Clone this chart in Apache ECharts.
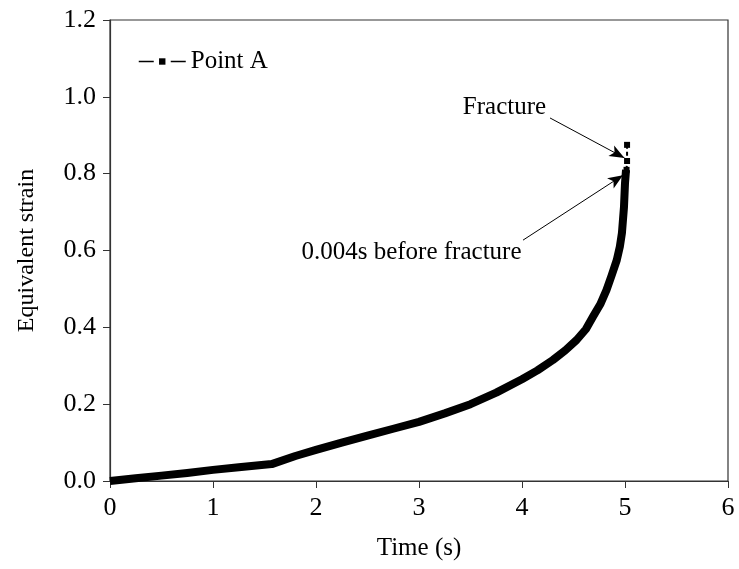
<!DOCTYPE html>
<html>
<head>
<meta charset="utf-8">
<script src="https://cdn.jsdelivr.net/npm/echarts@6/dist/echarts.min.js"></script>
<style>
html,body{margin:0;padding:0;background:#fff;}
#chart{width:739px;height:569px;}
</style>
</head>
<body>
<div id="chart"></div>
<script>
var timeValues   = [0, 0.25, 0.5, 0.75, 1.0, 1.25, 1.57, 1.8, 2.0, 2.25, 2.5, 2.75, 3.0, 3.25, 3.5, 3.75, 4.0, 4.15, 4.3, 4.42, 4.53, 4.62, 4.69, 4.76, 4.82, 4.87, 4.92, 4.95, 4.97, 4.99, 5.0, 5.01];
var strainValues = [0, 0.007, 0.014, 0.021, 0.029, 0.036, 0.044, 0.065, 0.081, 0.100, 0.118, 0.136, 0.154, 0.176, 0.200, 0.230, 0.265, 0.288, 0.315, 0.340, 0.367, 0.395, 0.428, 0.46, 0.497, 0.535, 0.575, 0.61, 0.645, 0.713, 0.775, 0.81];
var tipTime   = [5.015, 5.02, 5.02];
var tipStrain = [0.81, 0.833, 0.875];
var xTicks = [0, 1, 2, 3, 4, 5, 6];
var yTicks = [0.0, 0.2, 0.4, 0.6, 0.8, 1.0, 1.2];
var seriesName = 'Point A';
var annotFracture = {text: 'Fracture', at: [3.83, 0.973], from: [4.272, 0.945], to: [4.995, 0.841]};
var annotBefore = {text: '0.004s before fracture', at: [2.927, 0.596], from: [4.01, 0.627], to: [4.98, 0.796]};

var font = 'Liberation Serif, Times New Roman, serif';
var mainData = timeValues.map(function (t, i) { return [t, strainValues[i]]; });
var tipData = tipTime.map(function (t, i) { return [t, tipStrain[i]]; });

var chart = echarts.init(document.getElementById('chart'));
function arrowLine(a) {
  return [{coord: a.from, symbol: 'none'}, {coord: a.to, symbol: 'arrow', symbolSize: [9, 15]}];
}
chart.setOption({
  backgroundColor: '#fff',
  animation: false,
  grid: {left: 110, right: 11, top: 20, bottom: 88, show: true, borderColor: '#333', borderWidth: 1.2, backgroundColor: 'transparent'},
  legend: {
    show: true, left: 138, top: 49, padding: 0, itemWidth: 47, itemHeight: 8, itemGap: 4,
    data: [seriesName],
    textStyle: {fontFamily: font, fontSize: 25, color: '#000'},
    lineStyle: {type: [15, 17], width: 1.5, color: '#000'},
    itemStyle: {color: '#000'}
  },
  xAxis: {
    type: 'value', min: 0, max: 6, interval: 1,
    name: 'Time (s)', nameLocation: 'middle', nameGap: 55,
    nameTextStyle: {fontFamily: font, fontSize: 25, color: '#000'},
    axisLine: {show: true, lineStyle: {color: '#333', width: 1.2}},
    axisTick: {show: true, length: 7, lineStyle: {color: '#333'}},
    axisLabel: {fontFamily: font, fontSize: 26, color: '#000', margin: 14, formatter: function (v) { return xTicks.indexOf(v) >= 0 ? String(v) : ''; }},
    splitLine: {show: false}
  },
  yAxis: {
    type: 'value', min: 0, max: 1.2, interval: 0.2,
    name: 'Equivalent strain', nameLocation: 'middle', nameGap: 71,
    nameTextStyle: {fontFamily: font, fontSize: 24, color: '#000'},
    axisLine: {show: true, lineStyle: {color: '#333', width: 1.2}},
    axisTick: {show: true, length: 7, lineStyle: {color: '#333'}},
    axisLabel: {fontFamily: font, fontSize: 26, color: '#000', margin: 14, formatter: function (v) { return v.toFixed(1); }},
    splitLine: {show: false}
  },
  series: [
    {
      name: seriesName, type: 'line', data: mainData, symbol: 'rect', symbolSize: 6, showSymbol: false,
      lineStyle: {color: '#000', width: 8, join: 'round'}, itemStyle: {color: '#000'}, smooth: false,
      markLine: {silent: true, lineStyle: {color: '#000', width: 1, type: 'solid'}, label: {show: false},
        data: [arrowLine(annotFracture), arrowLine(annotBefore)]}
    },
    {
      name: 'tip', type: 'line', data: tipData, symbol: 'rect', symbolSize: 6, showSymbol: true,
      lineStyle: {color: '#000', width: 2, type: [4, 3]}, itemStyle: {color: '#000'}
    }
  ]
});
function textGraphic(a) {
  var p = chart.convertToPixel({gridIndex: 0}, a.at);
  return {type: 'text', x: p[0], y: p[1], style: {text: a.text, font: '25px ' + font, fill: '#000', align: 'center', verticalAlign: 'middle'}, silent: true};
}
chart.setOption({graphic: [textGraphic(annotFracture), textGraphic(annotBefore)]});
</script>
</body>
</html>
